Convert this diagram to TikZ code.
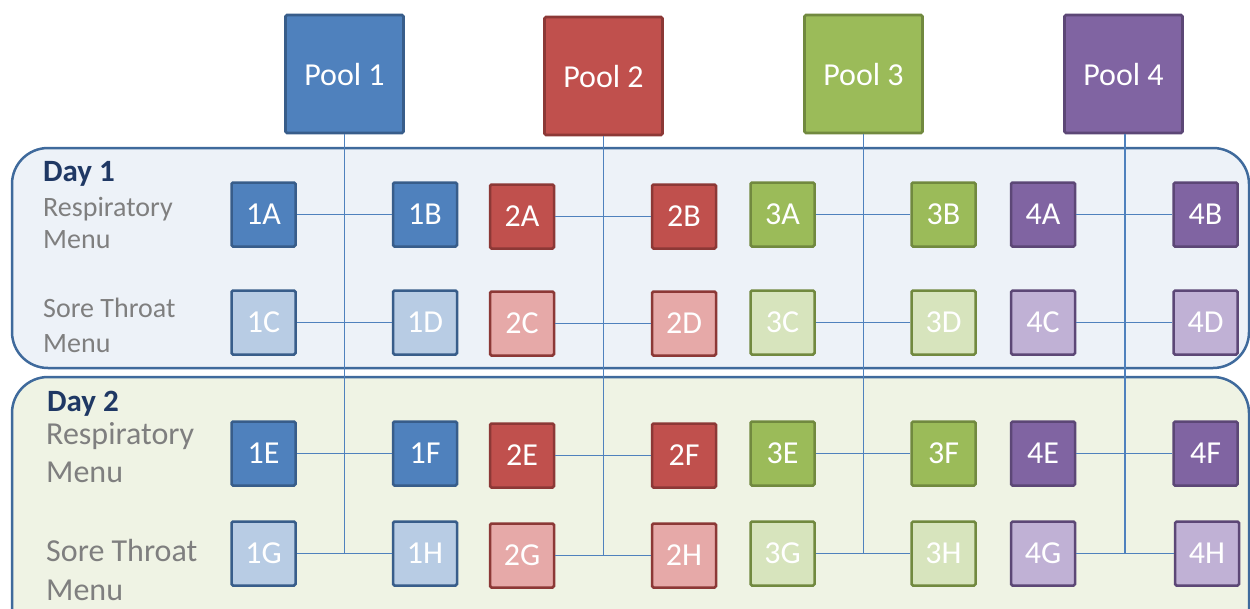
\documentclass[tikz,border=0pt]{standalone}
\usepackage{fontspec}
\setmainfont{Carlito}
\definecolor{bA}{HTML}{4F81BD}\definecolor{bD}{HTML}{385D8A}\definecolor{bL}{HTML}{B8CCE4}
\definecolor{rA}{HTML}{C0504D}\definecolor{rD}{HTML}{8C3836}\definecolor{rL}{HTML}{E6A9A8}
\definecolor{gA}{HTML}{9BBB59}\definecolor{gD}{HTML}{71893F}\definecolor{gL}{HTML}{D7E4BD}
\definecolor{pA}{HTML}{8064A2}\definecolor{pD}{HTML}{5C4776}\definecolor{pL}{HTML}{C0B1D5}
\definecolor{panelA}{HTML}{EDF2F8}\definecolor{panelB}{HTML}{EFF3E4}
\definecolor{panelline}{HTML}{3F6A9C}\definecolor{conn}{HTML}{4F81BD}
\definecolor{navy}{HTML}{1F3864}\definecolor{grayt}{HTML}{7F7F7F}
\begin{document}
\begin{tikzpicture}[x=1pt,y=-1pt,
  cell/.style={draw, line width=2.5pt, minimum size=64pt, inner sep=0pt, rounded corners=1.5pt,
    text=white, font=\fontsize{32}{34}\selectfont},
  pool/.style={draw, line width=2.8pt, minimum size=118pt, inner sep=0pt, rounded corners=1.5pt,
    text=white, font=\fontsize{32}{34}\selectfont},
  panel/.style={draw=panelline, line width=2.5pt, rounded corners=36pt},
  link/.style={draw=conn, line width=1.5pt},
  daylbl/.style={anchor=base west, inner sep=0pt, text=navy, font=\bfseries\fontsize{31}{33}\selectfont},
  menuA/.style={anchor=base west, inner sep=0pt, text=grayt, font=\fontsize{28}{30}\selectfont},
  menuB/.style={anchor=base west, inner sep=0pt, text=grayt, font=\fontsize{32}{34}\selectfont}]
\useasboundingbox (0,0) rectangle (1250,608);
% panels
\draw[panel, fill=panelA] (12,148) rectangle (1249,368);
\draw[panel, fill=panelB] (12,377) rectangle (1249,660);
% labels
\node[daylbl] (d1) at (43,181) {Day 1};
\node[menuA] (r1a) at (43,216) {Respiratory};
\node[menuA] (r1b) at (43,248) {Menu};
\node[menuA] (s1a) at (43,317) {Sore Throat};
\node[menuA] (s1b) at (43,352) {Menu};
\node[daylbl] (d2) at (47,411) {Day 2};
\node[menuB] (r2a) at (46,444) {Respiratory};
\node[menuB] (r2b) at (46,482) {Menu};
\node[menuB] (s2a) at (46,561) {Sore Throat};
\node[menuB] (s2b) at (46,600) {Menu};
% pools
\node[pool, fill=bA, draw=bD] (P1) at (344.5,74) {Pool 1};
\node[pool, fill=rA, draw=rD] (P2) at (603.5,76) {Pool 2};
\node[pool, fill=gA, draw=gD] (P3) at (863.5,74) {Pool 3};
\node[pool, fill=pA, draw=pD] (P4) at (1123.5,74) {Pool 4};
% vertical connector ends
\coordinate (V1) at (344.5,553.5);
\coordinate (V2) at (603.5,555);
\coordinate (V3) at (863.5,553.5);
\coordinate (V4) at (1125,553.5);
\draw[link] (P1.south) -- (V1);
\draw[link] (P2.south) -- (V2);
\draw[link] (P3.south) -- (V3);
\draw[link] (P4.south -| V4) -- (V4);
% cells: pool 1
\node[cell, fill=bA, draw=bD] (1A) at (263.5,214.5) {1A};
\node[cell, fill=bA, draw=bD] (1B) at (425,214.5) {1B};
\node[cell, fill=bL, draw=bD] (1C) at (263.5,322.5) {1C};
\node[cell, fill=bL, draw=bD] (1D) at (425,322.5) {1D};
\node[cell, fill=bA, draw=bD] (1E) at (263.5,453.5) {1E};
\node[cell, fill=bA, draw=bD] (1F) at (425,453.5) {1F};
\node[cell, fill=bL, draw=bD] (1G) at (263.5,553.5) {1G};
\node[cell, fill=bL, draw=bD] (1H) at (425,553.5) {1H};
% pool 2
\node[cell, fill=rA, draw=rD] (2A) at (522,216.5) {2A};
\node[cell, fill=rA, draw=rD] (2B) at (684,216.5) {2B};
\node[cell, fill=rL, draw=rD] (2C) at (522,323.5) {2C};
\node[cell, fill=rL, draw=rD] (2D) at (684,323.5) {2D};
\node[cell, fill=rA, draw=rD] (2E) at (522,455.5) {2E};
\node[cell, fill=rA, draw=rD] (2F) at (684,455.5) {2F};
\node[cell, fill=rL, draw=rD] (2G) at (522,555.5) {2G};
\node[cell, fill=rL, draw=rD] (2H) at (684,555.5) {2H};
% pool 3
\node[cell, fill=gA, draw=gD] (3A) at (782.5,214.5) {3A};
\node[cell, fill=gA, draw=gD] (3B) at (943.5,214.5) {3B};
\node[cell, fill=gL, draw=gD] (3C) at (782.5,322.5) {3C};
\node[cell, fill=gL, draw=gD] (3D) at (943.5,322.5) {3D};
\node[cell, fill=gA, draw=gD] (3E) at (782.5,453.5) {3E};
\node[cell, fill=gA, draw=gD] (3F) at (943.5,453.5) {3F};
\node[cell, fill=gL, draw=gD] (3G) at (782.5,553.5) {3G};
\node[cell, fill=gL, draw=gD] (3H) at (943.5,553.5) {3H};
% pool 4
\node[cell, fill=pA, draw=pD] (4A) at (1043,214.5) {4A};
\node[cell, fill=pA, draw=pD] (4B) at (1205.5,214.5) {4B};
\node[cell, fill=pL, draw=pD] (4C) at (1043,322.5) {4C};
\node[cell, fill=pL, draw=pD] (4D) at (1205.5,322.5) {4D};
\node[cell, fill=pA, draw=pD] (4E) at (1043,453.5) {4E};
\node[cell, fill=pA, draw=pD] (4F) at (1205.5,453.5) {4F};
\node[cell, fill=pL, draw=pD] (4G) at (1043,553.5) {4G};
\node[cell, fill=pL, draw=pD] (4H) at (1207,553.5) {4H};
% horizontal connectors
\foreach \p in {1,2,3,4}{
  \draw[link] (\p A.east) -- (\p B.west);
  \draw[link] (\p C.east) -- (\p D.west);
  \draw[link] (\p E.east) -- (\p F.west);
  \draw[link] (\p G.east) -- (\p H.west);
}
\end{tikzpicture}
\end{document}
